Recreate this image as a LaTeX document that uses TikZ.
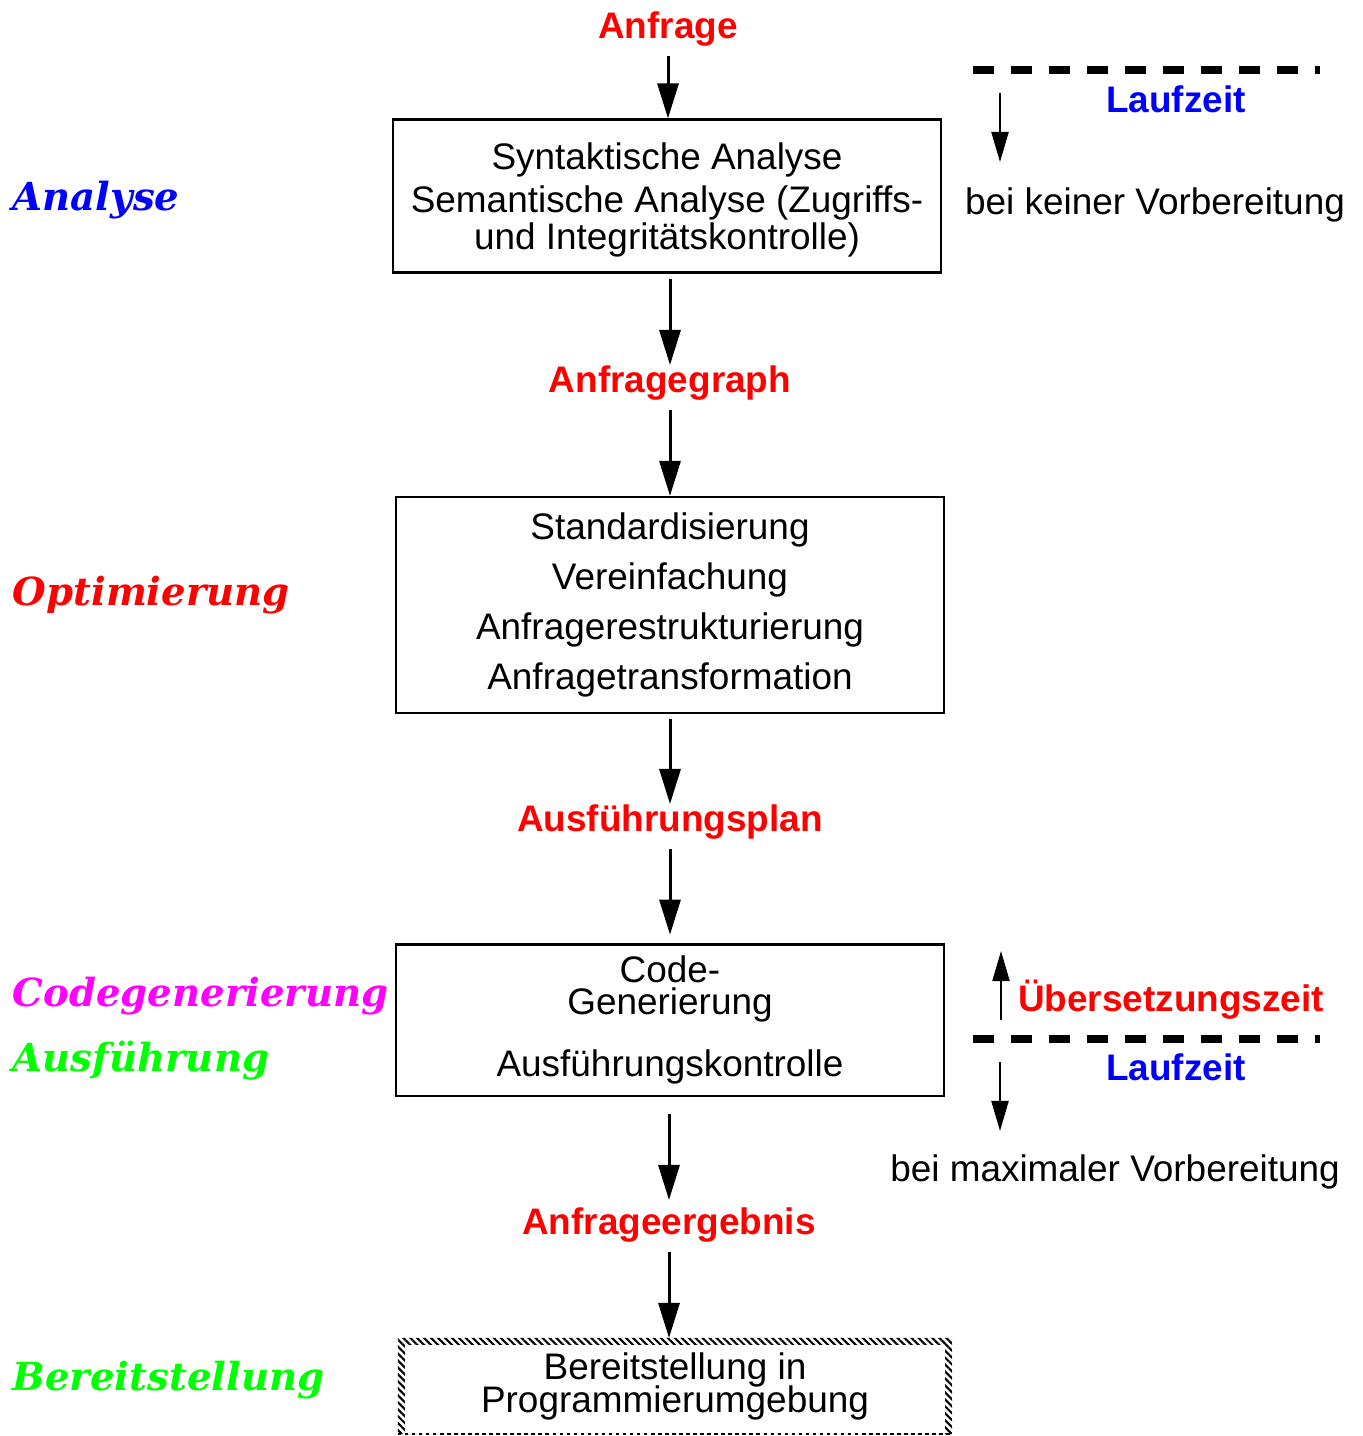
\documentclass[tikz,border=0pt]{standalone}
\usepackage{fontspec}
\setmainfont{Liberation Sans}
\newfontfamily\phasefont{DejaVu Serif}
\usetikzlibrary{positioning}
\usetikzlibrary{arrows.meta}
\usetikzlibrary{patterns.meta}
\definecolor{figblue}{RGB}{0,0,255}
\definecolor{figred}{RGB}{255,0,0}
\definecolor{figmagenta}{RGB}{255,0,255}
\definecolor{figgreen}{RGB}{0,255,0}
\newcommand{\tightlines}{\setlength{\lineskiplimit}{-6pt}\setlength{\lineskip}{0pt}}

\begin{document}
\begin{tikzpicture}[x=0.01cm, y=-0.01cm,
				stepbox/.style={draw=black, line width=0.6pt, minimum width=5.48cm, align=center, inner sep=0pt, font=\fontsize{10.5}{11.4}\selectfont\tightlines},
				datalabel/.style={text=figred, inner sep=0pt, font=\fontsize{10.5}{12}\selectfont\bfseries},
				timelabel/.style={text=figblue, inner sep=0pt, font=\fontsize{10.5}{12}\selectfont\bfseries},
				note/.style={inner sep=0pt, font=\fontsize{10.5}{12}\selectfont},
				phaselabel/.style={anchor=base west, inner sep=0pt, font=\phasefont\fontsize{11}{13}\selectfont\bfseries\itshape},
				flow/.style={line width=0.85pt, -{Triangle[length=3.5mm, width=2.1mm]}},
				timeflow/.style={line width=0.6pt, -{Triangle[length=3mm, width=1.7mm]}},
				timeline/.style={line width=2.3pt, dash pattern=on 6pt off 4.8pt},
				]
				\useasboundingbox (0,0) rectangle (1362,1436);
				%Nodes
				\node[datalabel]      (anfrage)      at 	(668,29)     {Anfrage};
				\node[stepbox, minimum height=1.53cm]      (analyse)      at 	(667,196)     {\mbox{}\\[-1.6pt]Syntaktische Analyse\\[0.8pt]Semantische Analyse (Zugriffs-\\[-0.9pt]und Integritätskontrolle)};
				\node[datalabel]      (graph)      at 	(670,383)     {Anfragegraph};
				\node[stepbox, minimum height=2.16cm, font=\fontsize{10.5}{14.2}\selectfont]      (optimierung)      at 	(670,605)     {Standardisierung\\Vereinfachung\\Anfragerestrukturierung\\Anfragetransformation};
				\node[datalabel]      (plan)      at 	(670,822)     {Ausführungsplan};
				\node[stepbox, minimum height=1.51cm]      (codegen)      at 	(670,1020)     {Code-\\[-2.3pt]Generierung\\[6pt]Ausführungskontrolle};
				\node[datalabel]      (ergebnis)      at 	(669,1225)     {Anfrageergebnis};
				\node[stepbox, draw=none, minimum width=5.52cm, minimum height=0.94cm, font=\fontsize{10.5}{9.4}\selectfont\tightlines]      (bereit)      at 	(675,1386)     {Bereitstellung in\\Programmierumgebung};

				%Phases
				\node[phaselabel, text=figblue]      (pAnalyse)      at 	(12,210)     {Analyse};
				\node[phaselabel, text=figred]      (pOptimierung)      at 	(12,605)     {Optimierung};
				\node[phaselabel, text=figmagenta]      (pCodegen)      at 	(12,1006)     {Codegenerierung};
				\node[phaselabel, text=figgreen]      (pAusfuehrung)      at 	(12,1071)     {Ausführung};
				\node[phaselabel, text=figgreen]      (pBereit)      at 	(12,1390)     {Bereitstellung};

				%Times
				\coordinate      (tl1a)      at 	(973,70);
				\coordinate      (tl1b)      at 	(1320,70);
				\node[timelabel]      (lauf1)      at 	(1176,99)     {Laufzeit};
				\coordinate      (ta1s)      at 	(1000,93);
				\coordinate      (ta1e)      at 	(1000,162);
				\node[note]      (keine)      at 	(1155,205)     {bei keiner Vorbereitung};

				\coordinate      (ta2s)      at 	(1001,1020);
				\coordinate      (ta2e)      at 	(1001,951);
				\node[datalabel]      (uebers)      at 	(1171,1000)     {Übersetzungszeit};
				\coordinate      (tl2a)      at 	(973,1039);
				\coordinate      (tl2b)      at 	(1320,1039);
				\node[timelabel]      (lauf2)      at 	(1176,1067)     {Laufzeit};
				\coordinate      (ta3s)      at 	(1000,1062);
				\coordinate      (ta3e)      at 	(1000,1131);
				\node[note]      (maximal)      at 	(1115,1172)     {bei maximaler Vorbereitung};

				%Lines
				\draw[flow, shorten <=2.5pt] (anfrage) -- (anfrage |- analyse.north);
				\draw[flow] ([yshift=-1.5pt]analyse.south -| graph) -- (graph);
				\draw[flow, shorten <=2.5pt] (graph) -- (graph |- optimierung.north);
				\draw[flow] ([yshift=-1.5pt]optimierung.south -| plan) -- (plan);
				\draw[flow, shorten <=2.5pt] (plan) -- ([yshift=2.5pt]plan |- codegen.north);
				\draw[flow] ([yshift=-5pt]codegen.south -| ergebnis) -- ([yshift=2pt]ergebnis.north);
				\draw[flow, shorten <=2.5pt] (ergebnis) -- (ergebnis |- bereit.north);

				\fill[pattern={Lines[angle=-45, distance=1.4pt, line width=0.6pt]}, even odd rule] (bereit.north west) rectangle (bereit.south east) ([shift={(7,7)}]bereit.north west) rectangle ([shift={(-7,0)}]bereit.south east);
				\draw[line width=0.4pt, dash pattern=on 1pt off 1pt] (bereit.south west) -- (bereit.south east);

				\draw[timeline] (tl1a) -- (tl1b);
				\draw[timeline] (tl2a) -- (tl2b);
				\draw[timeflow] (ta1s) -- (ta1e);
				\draw[timeflow] (ta2s) -- (ta2e);
				\draw[timeflow] (ta3s) -- (ta3e);
\end{tikzpicture}
\end{document}
